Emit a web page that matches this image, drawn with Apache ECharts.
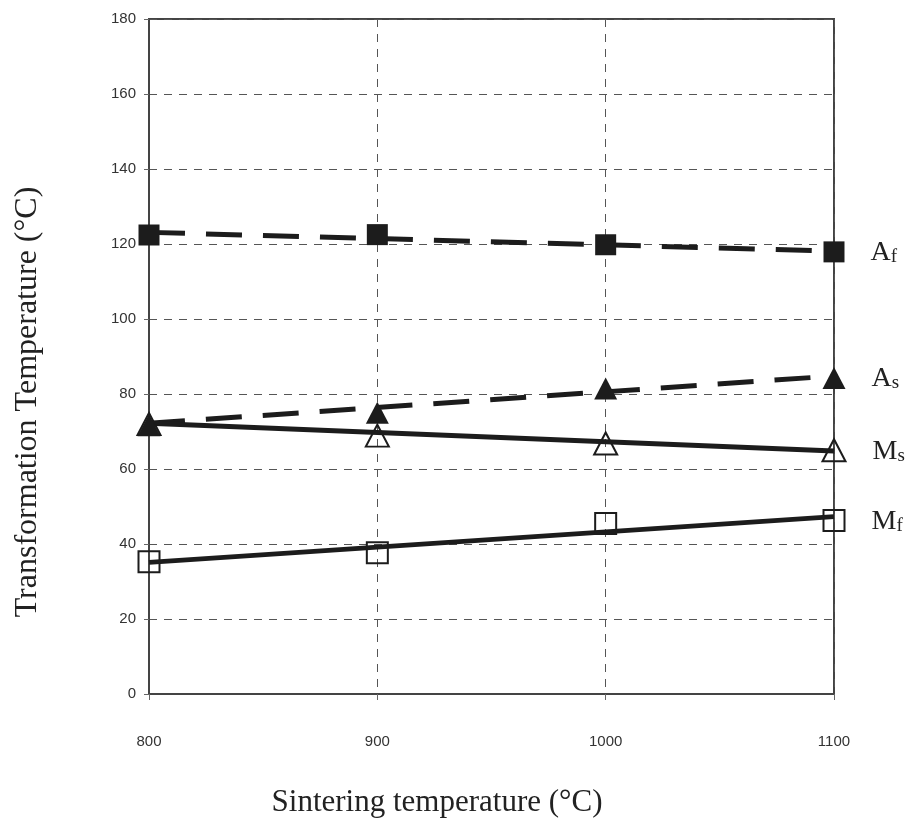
<!DOCTYPE html>
<html>
<head>
<meta charset="utf-8">
<script src="https://cdn.jsdelivr.net/npm/echarts@6/dist/echarts.min.js"></script>
<style>
  html, body { margin: 0; padding: 0; background: #fff; }
  #chart { width: 908px; height: 831px; }
</style>
</head>
<body>
<div id="chart"></div>
<script>
// Sintering temperatures (°C)
const sinterTemps = [800, 900, 1000, 1100];

// Measured transformation temperatures (°C)
const afValues = [122.4, 122.5, 119.8, 117.9];
const asValues = [71.7, 75.0, 81.5, 84.3];
const msValues = [72.0, 68.9, 66.8, 65.0];
const mfValues = [35.3, 37.7, 45.5, 46.3];

// Linear trend lines, value at 800 °C and at 1100 °C
const trendEnds = [800, 1100];
const afTrend = [123.1, 118.1];
const asTrend = [72.2, 84.8];
const msTrend = [72.2, 64.8];
const mfTrend = [35.1, 47.3];

// Y axis range and step
const yMin = 0, yMax = 180, yStep = 20;

const ink = '#1c1c1c';
const serif = '"Liberation Serif", "DejaVu Serif", serif';
const sans = '"Liberation Sans", Arial, sans-serif';

function pairs(xs, ys) { return xs.map((x, i) => [x, ys[i]]); }

function trend(name, ys, dashed) {
  return {
    name: name + ' trend',
    type: 'line',
    data: pairs(trendEnds, ys),
    symbol: 'none',
    silent: true,
    z: 2,
    lineStyle: { color: ink, width: 5, type: dashed ? [36, 21] : 'solid', cap: 'butt' }
  };
}

function labelText(main, sub) { return '{m|' + main + '}{s|' + sub + '}'; }

function markers(name, ys, symbol, filled, main, sub, z) {
  return {
    name: name,
    type: 'line',
    data: pairs(sinterTemps, ys),
    symbol: symbol,
    symbolSize: symbol === 'triangle' ? [23, 22] : 21,
    z: z,
    lineStyle: { opacity: 0, width: 0 },
    itemStyle: filled
      ? { color: ink, borderColor: ink, borderWidth: 0 }
      : { color: 'rgba(255,255,255,0)', borderColor: ink, borderWidth: 2 },
    label: {
      show: true,
      position: 'right',
      distance: 26,
      formatter: p => p.dataIndex === sinterTemps.length - 1 ? labelText(main, sub) : '',
      rich: {
        m: { fontFamily: serif, fontSize: 28, color: '#222', verticalAlign: 'bottom', lineHeight: 30 },
        s: { fontFamily: serif, fontSize: 19, color: '#222', verticalAlign: 'bottom', lineHeight: 12 }
      }
    }
  };
}

const chart = echarts.init(document.getElementById('chart'), null, { renderer: 'canvas' });

chart.setOption({
  animation: false,
  backgroundColor: '#fff',
  grid: {
    left: 149, right: 74, top: 19, bottom: 137,
    show: true, borderColor: '#444', borderWidth: 2, backgroundColor: 'transparent'
  },
  xAxis: {
    type: 'value',
    min: 800, max: 1100, interval: 100,
    axisLine: { show: true, lineStyle: { color: '#444', width: 2 } },
    axisTick: { show: true, length: 6, lineStyle: { color: '#666', width: 1 } },
    axisLabel: { margin: 40, fontFamily: sans, fontSize: 15, color: '#333', formatter: v => String(v) },
    splitLine: { show: true, lineStyle: { color: '#555', width: 1, type: [8, 7] } }
  },
  yAxis: {
    type: 'value',
    min: yMin, max: yMax, interval: yStep,
    axisLine: { show: true, lineStyle: { color: '#444', width: 2 } },
    axisTick: { show: true, length: 5, lineStyle: { color: '#666', width: 1 } },
    axisLabel: { margin: 13, fontFamily: sans, fontSize: 15, color: '#333', formatter: v => String(v) },
    splitLine: { show: true, lineStyle: { color: '#555', width: 1, type: [8, 7] } }
  },
  graphic: [
    {
      type: 'text',
      x: 437, y: 803,
      style: {
        text: 'Sintering temperature (°C)',
        fontFamily: serif, fontSize: 31, fill: '#222',
        align: 'center', verticalAlign: 'middle'
      }
    },
    {
      type: 'text',
      x: 28, y: 402,
      rotation: Math.PI / 2,
      style: {
        text: 'Transformation Temperature (°C)',
        fontFamily: serif, fontSize: 32, fill: '#222',
        align: 'center', verticalAlign: 'middle'
      }
    }
  ],
  series: [
    trend('Af', afTrend, true),
    trend('As', asTrend, true),
    trend('Ms', msTrend, false),
    trend('Mf', mfTrend, false),
    markers('Ms', msValues, 'triangle', false, 'M', 's', 3),
    markers('Mf', mfValues, 'rect', false, 'M', 'f', 3),
    markers('Af', afValues, 'rect', true, 'A', 'f', 4),
    markers('As', asValues, 'triangle', true, 'A', 's', 4)
  ]
});
</script>
</body>
</html>
